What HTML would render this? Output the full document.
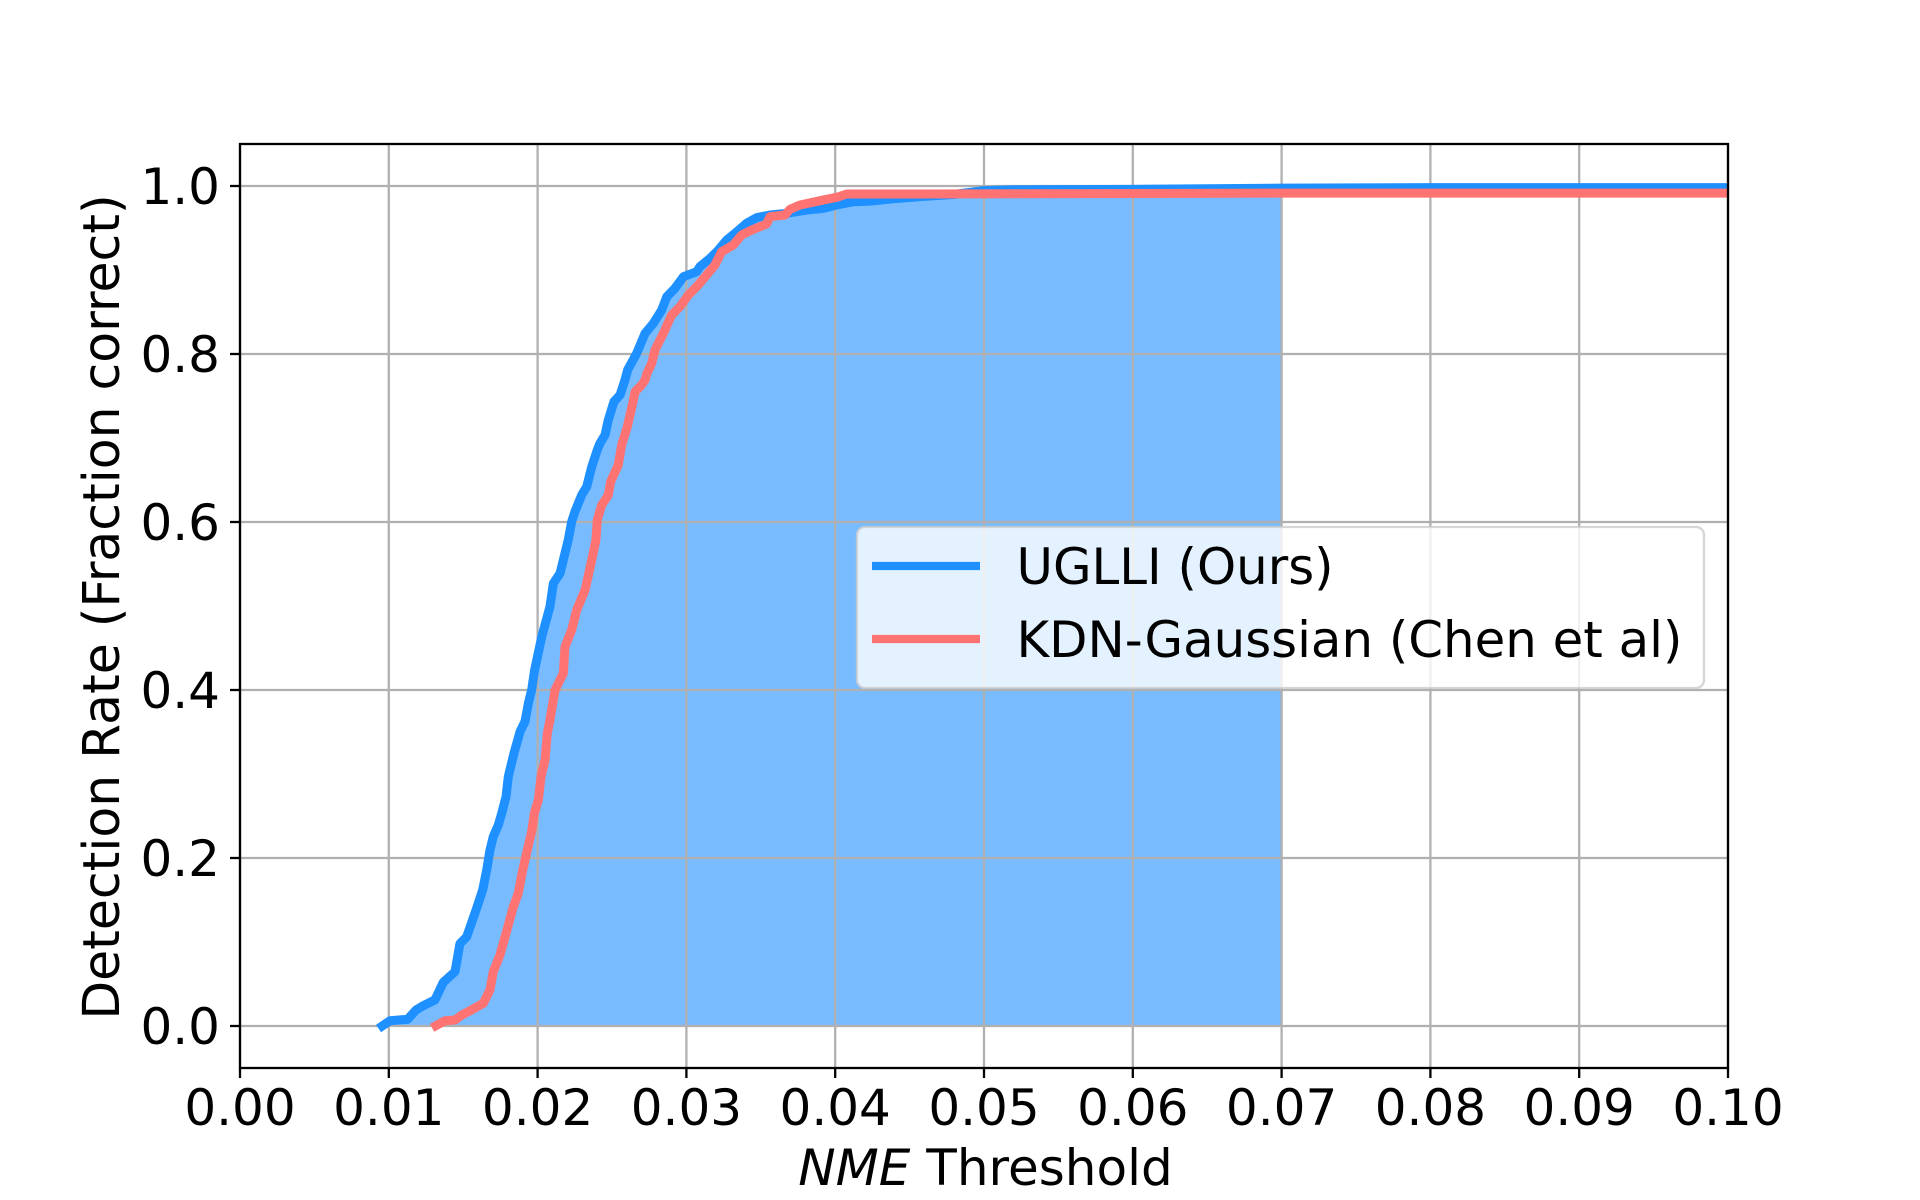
<!DOCTYPE html>
<html lang="en">
<head>
<meta charset="utf-8">
<title>Detection rate vs NME threshold</title>
<style>
html,body{margin:0;padding:0;background:#fff;}
svg{display:block;}
text{font-family:"DejaVu Sans","Liberation Sans",sans-serif;fill:#000;}
</style>
</head>
<body>
<svg id="chart" xmlns="http://www.w3.org/2000/svg" width="1920" height="1200" viewBox="0 0 1920 1200">
  <defs><clipPath id="axes-clip"><rect x="240" y="144" width="1488" height="924"/></clipPath></defs>
  <g id="fill-layer" clip-path="url(#axes-clip)"></g>
  <g id="grid-layer"></g>
  <g id="line-layer" clip-path="url(#axes-clip)"></g>
  <rect x="240" y="144" width="1488" height="924" fill="none" stroke="#000" stroke-width="2.3"/>
  <g id="tick-layer"></g>
  <text x="985.5" y="1185" font-size="50" text-anchor="middle"><tspan font-style="italic">NME</tspan> Threshold</text>
  <text x="0" y="0" font-size="50.4" text-anchor="middle" transform="translate(119 607) rotate(-90)">Detection Rate (Fraction correct)</text>
  <g>
    <rect x="857" y="527" width="847" height="161" rx="8" ry="8" fill="#fff" fill-opacity="0.8" stroke="#ccc" stroke-opacity="0.8" stroke-width="2.3"/>
    <line x1="872" x2="980" y1="566" y2="566" stroke="#1e90ff" stroke-width="8.3"/>
    <text x="1016.5" y="584" font-size="49.8">UGLLI (Ours)</text>
    <line x1="872" x2="980" y1="639" y2="639" stroke="#ff7373" stroke-width="8.3"/>
    <text x="1016.5" y="657" font-size="49.8">KDN-Gaussian (Chen et al)</text>
  </g>
</svg>
<script>
const xTicks = [0, 0.01, 0.02, 0.03, 0.04, 0.05, 0.06, 0.07, 0.08, 0.09, 0.1];
const xTickLabels = ["0.00", "0.01", "0.02", "0.03", "0.04", "0.05", "0.06", "0.07", "0.08", "0.09", "0.10"];
const yTicks = [0, 0.2, 0.4, 0.6, 0.8, 1];
const yTickLabels = ["0.0", "0.2", "0.4", "0.6", "0.8", "1.0"];
const fillLimit = 0.07;
const ugliX = [0.00956,0.01008,0.01127,0.01183,0.01232,0.0131,0.01366,0.01445,0.01478,0.01523,0.0159,0.01631,0.01658,0.0168,0.01702,0.01736,0.01759,0.01788,0.01803,0.01841,0.01882,0.01915,0.01938,0.0196,0.0198,0.02028,0.02083,0.02106,0.02151,0.02173,0.02206,0.02229,0.02251,0.02296,0.0233,0.02364,0.02401,0.02419,0.02453,0.02475,0.02513,0.02554,0.02587,0.02605,0.02666,0.02722,0.02778,0.02834,0.02868,0.02923,0.0298,0.03069,0.03091,0.03159,0.03215,0.03271,0.03327,0.03405,0.03472,0.03562,0.03674,0.03808,0.0392,0.0401,0.04122,0.04234,0.04346,0.0457,0.048,0.05,0.052,0.06,0.07,0.08,0.1];
const ugliY = [0,0.0063,0.008,0.019,0.0242,0.031,0.052,0.0647,0.098,0.106,0.14,0.162,0.1857,0.2095,0.2254,0.2393,0.2532,0.273,0.2968,0.3246,0.3504,0.3623,0.3842,0.4,0.4238,0.4635,0.4992,0.527,0.539,0.5548,0.5786,0.6004,0.6123,0.6321,0.642,0.6658,0.6857,0.6937,0.7036,0.7214,0.7432,0.7512,0.769,0.781,0.8008,0.8246,0.8365,0.8524,0.8682,0.8782,0.892,0.898,0.904,0.9139,0.9238,0.9357,0.9437,0.9556,0.9623,0.9655,0.9675,0.9714,0.9734,0.9774,0.9813,0.982,0.9841,0.9873,0.99,0.9945,0.9955,0.996,0.9975,0.998,0.998];
const kdnX = [0.01317,0.01378,0.01445,0.0149,0.01546,0.01635,0.0168,0.01702,0.01747,0.01781,0.01837,0.0187,0.019,0.01931,0.0196,0.01978,0.02005,0.02023,0.0205,0.02065,0.02083,0.02117,0.02173,0.02184,0.02229,0.02263,0.02319,0.02364,0.02392,0.02401,0.02431,0.02475,0.02491,0.02542,0.02565,0.02603,0.02639,0.02655,0.02699,0.02722,0.02735,0.02767,0.02789,0.02845,0.02901,0.02957,0.03013,0.0308,0.03136,0.03192,0.03237,0.03315,0.03372,0.03439,0.03539,0.03562,0.03663,0.03696,0.03763,0.03898,0.0401,0.04077,0.0457,0.07,0.1];
const kdnY = [0.0004,0.0063,0.0071,0.013,0.0182,0.027,0.043,0.0647,0.0845,0.106,0.142,0.158,0.1857,0.2095,0.2313,0.2532,0.269,0.2968,0.3167,0.3484,0.3643,0.4,0.4198,0.4516,0.4714,0.4952,0.519,0.5548,0.5786,0.6024,0.6202,0.6321,0.648,0.6679,0.6917,0.7135,0.7413,0.755,0.7631,0.769,0.777,0.7889,0.8048,0.8246,0.8464,0.8564,0.8702,0.8821,0.894,0.906,0.9218,0.9298,0.9417,0.9476,0.9548,0.9635,0.9655,0.9722,0.9774,0.9825,0.9865,0.9905,0.9905,0.9915,0.9915];

const SVG_NS = 'http://www.w3.org/2000/svg';
const plotLeft = 240, plotWidth = 1488, plotBottom = 1068, plotHeight = 924;
const xMin = 0, xMax = 0.1, yMin = -0.05, yMax = 1.05;
function sx(v) { return plotLeft + (v - xMin) / (xMax - xMin) * plotWidth; }
function sy(v) { return plotBottom - (v - yMin) / (yMax - yMin) * plotHeight; }
function make(tag, parent, attrs) {
  const el = document.createElementNS(SVG_NS, tag);
  Object.keys(attrs).forEach(function (k) { el.setAttribute(k, attrs[k]); });
  parent.appendChild(el);
  return el;
}
const gridLayer = document.getElementById('grid-layer');
const tickLayer = document.getElementById('tick-layer');
const fillLayer = document.getElementById('fill-layer');
const lineLayer = document.getElementById('line-layer');

xTicks.forEach(function (t, i) {
  const g = make('line', gridLayer, { x1: sx(t), x2: sx(t), y1: 144, y2: 1068, stroke: '#b0b0b0', 'stroke-width': 2.3 });
  
  
  const m = make('line', tickLayer, { x1: sx(t), x2: sx(t), y1: 1068, y2: 1078, stroke: '#000', 'stroke-width': 2.3 });
  
  
  const l = make('text', tickLayer, { x: sx(t), y: 1125, 'font-size': 50, 'text-anchor': 'middle' });
  l.textContent = xTickLabels[i];
  
  
});
yTicks.forEach(function (t, i) {
  const g = make('line', gridLayer, { x1: 240, x2: 1728, y1: sy(t), y2: sy(t), stroke: '#b0b0b0', 'stroke-width': 2.3 });
  
  
  const m = make('line', tickLayer, { x1: 230, x2: 240, y1: sy(t), y2: sy(t), stroke: '#000', 'stroke-width': 2.3 });
  
  
  const l = make('text', tickLayer, { x: 220, y: sy(t) + 18, 'font-size': 50, 'text-anchor': 'end' });
  l.textContent = yTickLabels[i];
  
  
});

function pointsOf(xs, ys) {
  return xs.map(function (x, i) { return sx(x).toFixed(2) + ',' + sy(ys[i]).toFixed(2); });
}
const fillPts = [];
ugliX.forEach(function (x, i) { if (x <= fillLimit) fillPts.push(sx(x).toFixed(2) + ',' + sy(ugliY[i]).toFixed(2)); });
fillPts.push(sx(fillLimit).toFixed(2) + ',' + sy(0).toFixed(2));
fillPts.push(sx(ugliX[0]).toFixed(2) + ',' + sy(0).toFixed(2));
const area = make('polygon', fillLayer, { points: fillPts.join(' '), fill: '#1e90ff', 'fill-opacity': 0.6 });



const ugliLine = make('polyline', lineLayer, { points: pointsOf(ugliX, ugliY).join(' '), fill: 'none', stroke: '#1e90ff', 'stroke-width': 9, 'stroke-linejoin': 'round', 'stroke-linecap': 'square' });


const kdnLine = make('polyline', lineLayer, { points: pointsOf(kdnX, kdnY).join(' '), fill: 'none', stroke: '#ff7373', 'stroke-width': 9, 'stroke-linejoin': 'round', 'stroke-linecap': 'square' });


</script>
</body>
</html>
